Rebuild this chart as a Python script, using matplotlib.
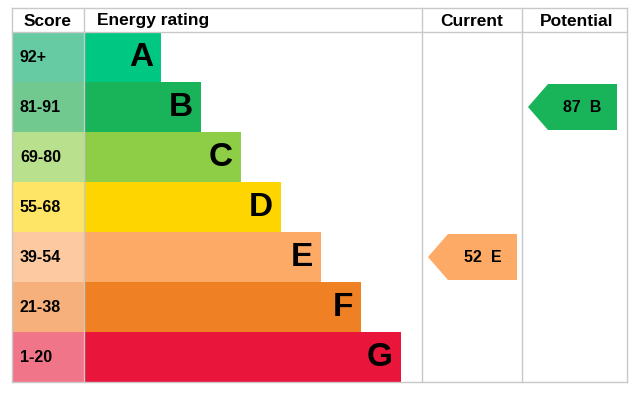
import matplotlib.pyplot as plt
from matplotlib.patches import Rectangle, Polygon

bands = ['A', 'B', 'C', 'D', 'E', 'F', 'G']
scores = ['92+', '81-91', '69-80', '55-68', '39-54', '21-38', '1-20']
bar_ends = [161, 201, 241, 281, 321, 361, 401]
bar_colors = ['#00c781', '#19b459', '#8dce46', '#ffd500', '#fcaa65', '#ef8023', '#e9153b']
score_colors = ['#66cba3', '#72c98f', '#b9e08c', '#ffe566', '#fdc9a0', '#f5b07c', '#f07589']
current = (52, 'E')
potential = (87, 'B')

W, H = 644, 407
fig = plt.figure(figsize=(W / 100, H / 100), dpi=100)
ax = fig.add_axes([0, 0, 1, 1])
ax.set_xlim(0, W)
ax.set_ylim(H, 0)
ax.axis('off')

x0, x1, x2, x3, x4, x5 = 12, 84, 422, 522, 627, 627
top, head, rowh = 8, 32, 50
bottom = head + rowh * len(bands)
grid = '#c8c8c8'

# header
for x, lab in [(x0 + 36, 'Score'), (97, 'Energy rating'), (472, 'Current'), (577, 'Potential')]:
    ax.text(x, (top + head) / 2 + 1, lab, ha='center' if lab != 'Energy rating' else 'left',
            va='center', fontsize=12.5, fontweight='bold', family='Liberation Sans')

for i, b in enumerate(bands):
    y = head + i * rowh
    ax.add_patch(Rectangle((x0, y), x1 - x0, rowh, color=score_colors[i], lw=0))
    ax.add_patch(Rectangle((x1, y), bar_ends[i] - x1, rowh, color=bar_colors[i], lw=0))
    ax.text(x0 + 8, y + rowh / 2 + 1, scores[i], va='center', fontsize=11.5,
            fontweight='bold', family='Liberation Sans')
    ax.text(bar_ends[i] - 8, y + rowh / 2 + 1, b, va='center', ha='right', fontsize=24,
            fontweight='bold', family='Liberation Sans')

# grid lines
for x in [x0, x1, x2, x3, x4]:
    ax.plot([x, x], [top, bottom], color=grid, lw=1)
ax.plot([x0, x4], [top, top], color=grid, lw=1)
ax.plot([x0, x4], [head, head], color=grid, lw=1)
ax.plot([x0, x4], [bottom, bottom], color=grid, lw=1)


def arrow(val, band, xl, xr):
    i = bands.index(band)
    y = head + i * rowh
    yt, yb = y + 2, y + rowh - 2
    ym = (yt + yb) / 2
    pts = [(xl, ym), (xl + 20, yt), (xr, yt), (xr, yb), (xl + 20, yb)]
    ax.add_patch(Polygon(pts, closed=True, color=bar_colors[i], lw=0))
    ax.text((xl + xr) / 2 + 10, ym + 1, f'{val}  {band}', ha='center', va='center',
            fontsize=11.5, fontweight='bold', family='Liberation Sans')


arrow(current[0], current[1], 428, 517)
arrow(potential[0], potential[1], 528, 617)

fig.savefig('out.png', dpi=100)
